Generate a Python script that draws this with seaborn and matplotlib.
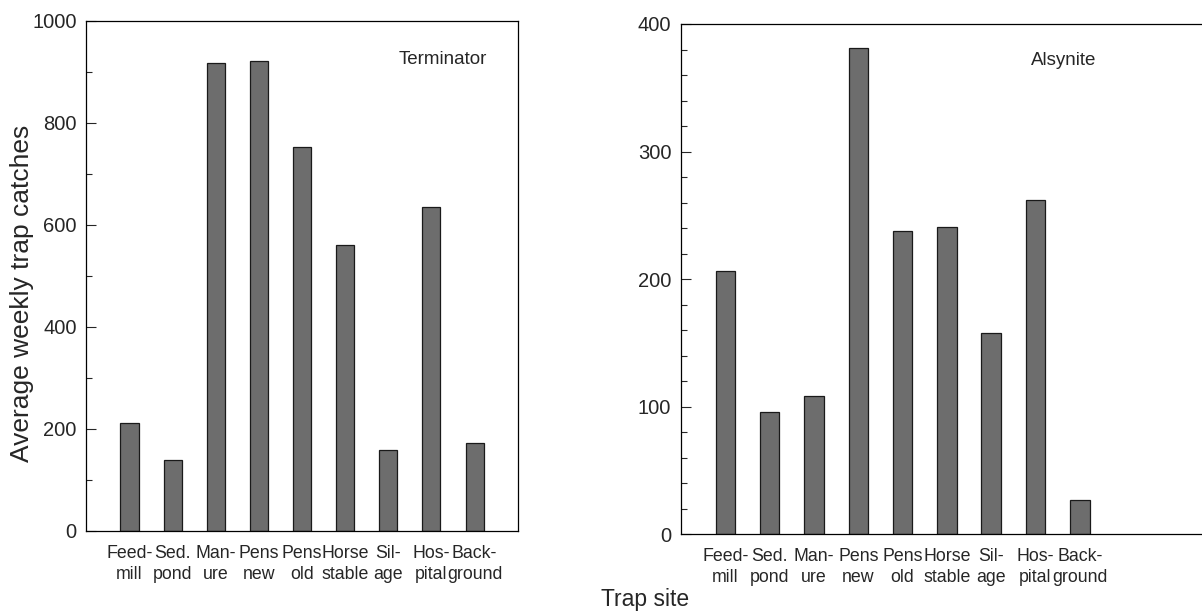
#importing libraries
import numpy as np
import pandas as pd
import seaborn as sns
import matplotlib.pyplot as plt
from matplotlib.ticker import MultipleLocator

# trap sites (two-line tick labels) and average weekly catches
sites = ['Feed-\nmill', 'Sed.\npond', 'Man-\nure', 'Pens\nnew', 'Pens\nold',
         'Horse\nstable', 'Sil-\nage', 'Hos-\npital', 'Back-\nground']
terminator = [212, 140, 918, 921, 752, 560, 158, 635, 172]
alsynite = [206, 96, 108, 381, 238, 241, 158, 262, 27]

sns.set_style('ticks')
plt.rcParams['font.family'] = ['Liberation Sans', 'DejaVu Sans']

fig = plt.figure(figsize=(12.02, 6.12), dpi=100)
ax1 = fig.add_axes([0.0718, 0.1324, 0.3589, 0.8333])
ax2 = fig.add_axes([0.5666, 0.1270, 0.4418, 0.8338])

bar_col = '#6d6d6d'

def draw(ax, vals, width, ymax, major, minor, name, tx, ty):
    d = pd.DataFrame({'site': sites, 'val': vals})
    sns.barplot(data=d, x='site', y='val', color=bar_col, saturation=1,
                width=width, edgecolor='#1a1a1a', linewidth=0.9, ax=ax)
    ax.set_ylim(0, ymax)
    ax.yaxis.set_major_locator(MultipleLocator(major))
    ax.yaxis.set_minor_locator(MultipleLocator(minor))
    ax.tick_params(axis='y', which='major', direction='in', length=7.5,
                   width=0.8, labelsize=14.5, pad=7, right=False)
    ax.tick_params(axis='y', which='minor', direction='in', length=4.5,
                   width=0.8, right=False)
    ax.tick_params(axis='x', length=0, labelsize=12.8, pad=10)
    for lab in ax.get_xticklabels():
        lab.set_linespacing(1.3)
    ax.set_xlabel('')
    ax.set_ylabel('')
    for s in ax.spines.values():
        s.set_linewidth(0.9)
        s.set_color('black')
    ax.text(tx, ty, name, transform=ax.transAxes, fontsize=13.5,
            ha='center', va='center')

draw(ax1, terminator, 0.42, 1000, 200, 100, 'Terminator', 0.827, 0.925)
ax1.set_xlim(-1, 9)

draw(ax2, alsynite, 0.44, 400, 100, 20, 'Alsynite', 0.721, 0.929)
ax2.set_xlim(-1, -1 + 531 / 44.3)

fig.text(0.018, 0.521, 'Average weekly trap catches', rotation=90,
         fontsize=19, ha='center', va='center')
fig.text(0.537, 0.02, 'Trap site', fontsize=16.5, ha='center', va='center')

plt.savefig('out.png', dpi=100)
